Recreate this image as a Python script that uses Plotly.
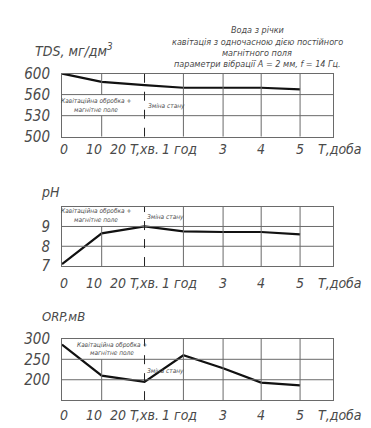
import numpy as np
import plotly.graph_objects as go

# ---- data ----
time_labels = ["0", "10", "20 T,хв.", "1 год", "3", "4", "5"]
tds_values = [600, 584, 578, 573, 573, 573, 570]
ph_values = [7.1, 8.65, 9.0, 8.75, 8.72, 8.72, 8.6]
orp_values = [286, 210, 195, 260, 228, 193, 186]
tds_ticks = [500, 530, 560, 600]
ph_ticks = [7, 8, 9]
orp_ticks = [200, 250, 300]
unit_label = "Т,доба"

# ---- layout helpers ----
W, H = 371, 428
X_POS = [0, 1.0, 2.08, 3.06, 4.06, 5.02, 6.0]   # positions of the time categories
LABEL_POS = [0.05, 0.8, 1.82, 2.95, 4.06, 5.02, 6.0]
X_MAX = 6.83
FONT = "DejaVu Sans Condensed, Liberation Sans Narrow, DejaVu Sans, sans-serif"
TXT = "#4a4a4a"
GRID = "#6a6a6a"


def px(x):
    return x / W


def py(y):
    return 1 - y / H


# TDS axis uses equally spaced ticks for unequal values
tds_pos = np.interp(tds_values, tds_ticks, np.arange(len(tds_ticks)))

fig = go.Figure()
panels = [
    dict(ax="", y=tds_pos, dom=(59, 125), rng=[0, 3],
         tv=list(range(len(tds_ticks))), tt=[str(t) for t in tds_ticks]),
    dict(ax="2", y=ph_values, dom=(198, 260), rng=[7, 10],
         tv=ph_ticks, tt=[str(t) for t in ph_ticks]),
    dict(ax="3", y=orp_values, dom=(336, 400), rng=[150, 300],
         tv=orp_ticks, tt=[str(t) for t in orp_ticks]),
]

for p in panels:
    fig.add_trace(go.Scatter(x=X_POS, y=p["y"], mode="lines",
                             line=dict(color="#111111", width=2.2),
                             xaxis="x" + p["ax"], yaxis="y" + p["ax"],
                             showlegend=False, hoverinfo="skip"))
    xa = dict(domain=[px(54), px(325)], range=[0, X_MAX], showgrid=False,
              zeroline=False, showline=True, mirror=True, linecolor=GRID,
              linewidth=1, showticklabels=False, ticks="",
              anchor="y" + p["ax"])
    ya = dict(domain=[py(p["dom"][1]), py(p["dom"][0])], range=p["rng"],
              showgrid=False, zeroline=False, showline=True, mirror=True,
              linecolor=GRID, linewidth=1, tickvals=p["tv"], ticktext=p["tt"],
              ticks="outside", ticklen=8, tickcolor="rgba(0,0,0,0)",
              tickfont=dict(family=FONT, size=15, color=TXT, style="italic",
                            weight=300),
              anchor="x" + p["ax"])
    fig.layout["xaxis" + p["ax"]] = xa
    fig.layout["yaxis" + p["ax"]] = ya

shapes = []


def vline(ax, x, y0, y1, dash="solid", color=GRID, width=1):
    shapes.append(dict(type="line", xref="x" + ax, yref="y" + ax,
                       x0=x, x1=x, y0=y0, y1=y1,
                       line=dict(color=color, width=width, dash=dash)))


def hline(ax, y):
    shapes.append(dict(type="line", xref="x" + ax, yref="y" + ax,
                       x0=0, x1=X_MAX, y0=y, y1=y,
                       line=dict(color=GRID, width=1)))


# TDS grid
hline("", 1); hline("", 2)
vline("", X_POS[1], 0, 1); vline("", X_POS[1], 2, 3)
for xp in X_POS[3:]:
    vline("", xp, 0, 3)
vline("", X_POS[2], 0, 3, dash="dash", color="#222222")
# pH grid
hline("2", 8); hline("2", 9)
vline("2", X_POS[1], 7, 9)
for xp in X_POS[3:]:
    vline("2", xp, 7, 10)
vline("2", X_POS[2], 7, 10, dash="dash", color="#222222")
# ORP grid
hline("3", 200); hline("3", 250)
vline("3", X_POS[1], 150, 250)
for xp in X_POS[3:]:
    vline("3", xp, 150, 300)
vline("3", X_POS[2], 150, 300, dash="dash", color="#222222")

ann = []


def text(x, y, s, size, anchor="center", xref="paper", yref="paper"):
    ann.append(dict(x=x, y=y, xref=xref, yref=yref, text=s, showarrow=False,
                    xanchor=anchor, yanchor="middle",
                    font=dict(family=FONT, size=size, color=TXT, style="italic",
                              weight=300)))


# x tick labels for each panel
for ax, ycen in [("", 138), ("2", 278), ("3", 415)]:
    xr = "x" + ax
    for lp, lab in zip(LABEL_POS, time_labels):
        text(lp, py(ycen), lab, 14, xref=xr)
    text(px(332), py(ycen), unit_label, 14)

# axis titles
text(px(25), py(34), "TDS, мг/дм<sup>3</sup>", 14, anchor="left")
text(px(31), py(183), "pH", 14, anchor="left")
text(px(32), py(313), "ORP,мВ", 13, anchor="left")

# header
header = ["Вода з річки", "кавітація з одночасною дією постійного",
          "магнітного поля", "параметри вібрації А = 2 мм, f = 14 Гц."]
for i, line in enumerate(header):
    text(px(249), py(14 + i * 11.7), line, 9)

# inner notes
for (x1, y1, y2, x3, y3) in [(88, 88, 97, 138, 93), (88, 203, 212, 137, 209),
                             (104, 342, 351, 137, 370)]:
    text(px(x1), py(y1), "Кавітаційна обробка +", 6.5)
    text(px(x1), py(y2), "магнітне поле", 6.5)
    text(px(x3), py(y3), "Зміна стану", 6.5, anchor="left")

fig.update_layout(width=W, height=H, margin=dict(l=0, r=0, t=0, b=0),
                  paper_bgcolor="white", plot_bgcolor="white",
                  shapes=shapes, annotations=ann, showlegend=False)

fig.write_html("out.html")
